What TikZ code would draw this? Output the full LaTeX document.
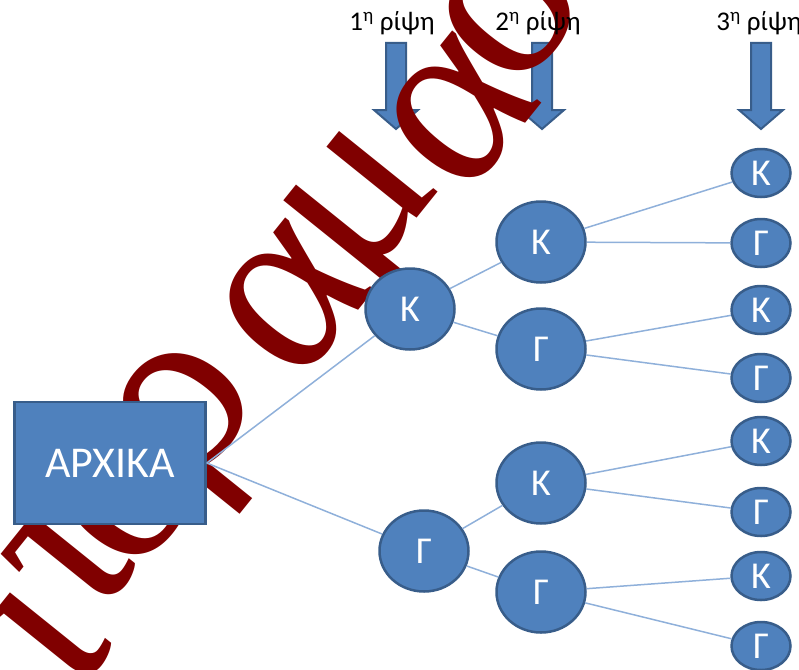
\documentclass[tikz,border=0pt]{standalone}
\usepackage{fontspec}
\setmainfont{Carlito}
\newfontfamily\wmfont{Liberation Serif}
\usetikzlibrary{shapes.geometric}
\definecolor{nodeblue}{HTML}{4F81BD}
\definecolor{nodeline}{HTML}{385D8A}
\definecolor{linkblue}{HTML}{8FB0DA}
\definecolor{wmred}{HTML}{800000}

\begin{document}
\begin{tikzpicture}[x=1pt,y=-1pt,
    toss node/.style={ellipse,fill=nodeblue,draw=nodeline,line width=2.5pt,text=white,inner sep=0pt,font=\fontsize{38}{38}\selectfont},
    big node/.style={toss node,minimum width=89pt,minimum height=81pt},
    small node/.style={toss node,minimum width=59pt,minimum height=48pt},
    start node/.style={rectangle,fill=nodeblue,draw=nodeline,line width=2.5pt,text=white,minimum width=191pt,minimum height=122pt,font=\fontsize{44}{44}\selectfont},
    throw label/.style={font=\fontsize{27}{27}\selectfont},
    down arrow/.style={fill=nodeblue,draw=nodeline,line width=2pt},
    watermark/.style={rotate=51.2,anchor=base,inner sep=0pt,text=wmred,font=\wmfont\fontsize{250}{250}\selectfont},
    link/.style={draw=linkblue,line width=1.5pt}]
  \useasboundingbox (0,0) rectangle (799,669);
  \clip (0,0) rectangle (799,669);

  % throws
  \foreach \x in {396,542,761}
    \draw[down arrow] (\x-10,43) -- (\x+10,43) -- (\x+10,110) -- (\x+22,110)
      -- (\x,129) -- (\x-22,110) -- (\x-10,110) -- cycle;

  % watermark, letter by letter
  \foreach \g/\x/\y in {ι/95/671,τ/117/593,ο/172/532,ρ/228/445,α/338/336,μ/402/236,α/505/149,ο/555/48}
    \node[watermark] (wm\x) at (\x,\y) {\g};

  \node[throw label] (r1) at (392,23) {1\textsuperscript{η} ρίψη};
  \node[throw label] (r2) at (538,23) {2\textsuperscript{η} ρίψη};
  \node[throw label] (r3) at (759,23) {3\textsuperscript{η} ρίψη};

  % tree
  \node[start node] (0) at (110,463) {ΑΡΧΙΚΑ};
  \node[big node] (1) at (410,309) {Κ};
  \node[big node] (2) at (424,551) {Γ};
  \node[big node] (11) at (541,242) {Κ};
  \node[big node] (12) at (541,349) {Γ};
  \node[big node] (21) at (541,483) {Κ};
  \node[big node] (22) at (541,592) {Γ};
  \node[small node] (111) at (761,173) {Κ};
  \node[small node] (112) at (761,243) {Γ};
  \node[small node] (121) at (761,310) {Κ};
  \node[small node] (122) at (761,378) {Γ};
  \node[small node] (211) at (761,441) {Κ};
  \node[small node] (212) at (761,512) {Γ};
  \node[small node] (221) at (761,576) {Κ};
  \node[small node] (222) at (761,646) {Γ};

  \path[link]
  (0.east) edge (1)
  (0.east) edge (2)
  (1) edge (11)
  edge (12)
  (2) edge (21)
  edge (22)
  (11) edge (111)
  edge (112)
  (12) edge (121)
  edge (122)
  (21) edge (211)
  edge (212)
  (22) edge (221)
  edge (222);
\end{tikzpicture}
\end{document}
